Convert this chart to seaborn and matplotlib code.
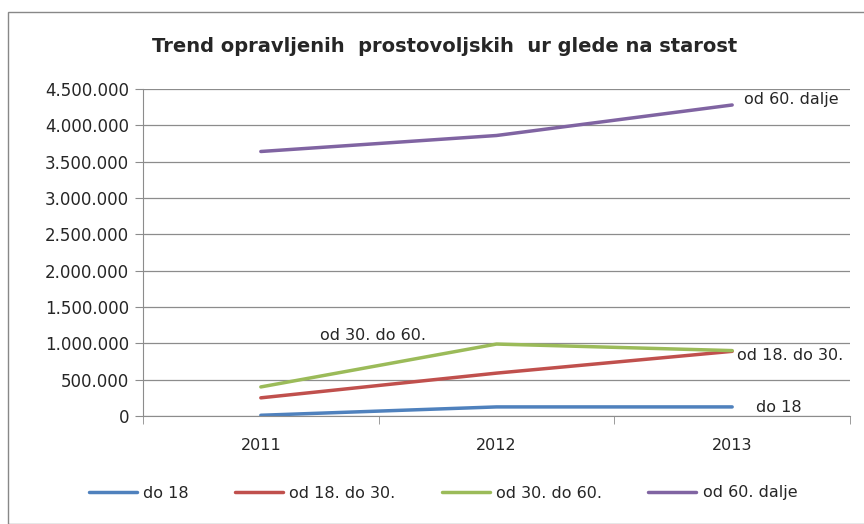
import pandas as pd
import matplotlib.pyplot as plt
import seaborn as sns
from matplotlib.ticker import FuncFormatter, FixedLocator
from matplotlib.patches import Rectangle

# data
years = ["2011", "2012", "2013"]
do_18 = [10000, 125000, 125000]
od_18_do_30 = [250000, 590000, 890000]
od_30_do_60 = [400000, 990000, 900000]
od_60_dalje = [3640000, 3860000, 4280000]
groups = ["do 18", "od 18. do 30.", "od 30. do 60.", "od 60. dalje"]
colors = ["#4F81BD", "#C0504D", "#9BBB59", "#8064A2"]

df = pd.DataFrame({
    "Leto": years * 4,
    "Ure": do_18 + od_18_do_30 + od_30_do_60 + od_60_dalje,
    "Skupina": [g for g in groups for _ in years],
})

sns.set_style("white")
plt.rcParams["font.family"] = ["DejaVu Sans"]
txt = "#262626"

fig = plt.figure(figsize=(8.64, 5.24), dpi=100)
fig.patches.append(Rectangle((8 / 864, 0), 1.0, 1 - 12 / 524, transform=fig.transFigure,
                             fill=False, edgecolor="#888888", linewidth=1.0))
ax = fig.add_axes([143 / 864, 1 - 416 / 524, 707 / 864, 327 / 524])

sns.lineplot(data=df, x="Leto", y="Ure", hue="Skupina", palette=colors,
             linewidth=2.5, ax=ax, legend=False, sort=False)

ax.set_xlim(-0.5, 2.5)
ax.set_ylim(0, 4500000)
ax.set_yticks(range(0, 4500001, 500000))
ax.yaxis.set_major_formatter(FuncFormatter(lambda v, p: f"{int(v):,}".replace(",", ".")))
ax.grid(axis="y", color="#8c8c8c", linewidth=0.9)
ax.set_axisbelow(True)
ax.set_xticks([0, 1, 2])
ax.set_xticklabels(years)
ax.xaxis.set_minor_locator(FixedLocator([-0.5, 0.5, 1.5, 2.5]))
ax.tick_params(axis="x", which="major", length=0, pad=16, labelsize=11.5, colors=txt)
ax.tick_params(axis="x", which="minor", length=6, direction="out", color="#8c8c8c", bottom=True)
ax.tick_params(axis="y", length=6, direction="out", color="#8c8c8c", labelsize=12,
               labelcolor=txt, left=True, pad=4)
ax.set_xlabel("")
ax.set_ylabel("")
for side in ["top", "right"]:
    ax.spines[side].set_visible(False)
for side in ["left", "bottom"]:
    ax.spines[side].set_color("#8c8c8c")

# line labels
ax.text(2.05, 4250000, "od 60. dalje", fontsize=11.5, va="bottom", color=txt)
ax.text(2.02, 830000, "od 18. do 30.", fontsize=11.5, va="center", color=txt)
ax.text(0.25, 1000000, "od 30. do 60.", fontsize=11.5, va="bottom", color=txt)
ax.text(2.1, 20000, "do 18", fontsize=11.5, va="bottom", color=txt)

fig.text(445 / 864, 1 - 47 / 524, "Trend opravljenih  prostovoljskih  ur glede na starost",
         ha="center", va="center", fontsize=14, fontweight="bold", color=txt)

handles = [plt.Line2D([], [], color=c, linewidth=2.5) for c in colors]
fig.legend(handles, groups, loc="center", bbox_to_anchor=(443 / 864, 1 - 493 / 524),
           ncol=4, frameon=False, fontsize=11.5, handlelength=3.0, columnspacing=2.9,
           handletextpad=0.4)

plt.savefig("out.png", dpi=100)
